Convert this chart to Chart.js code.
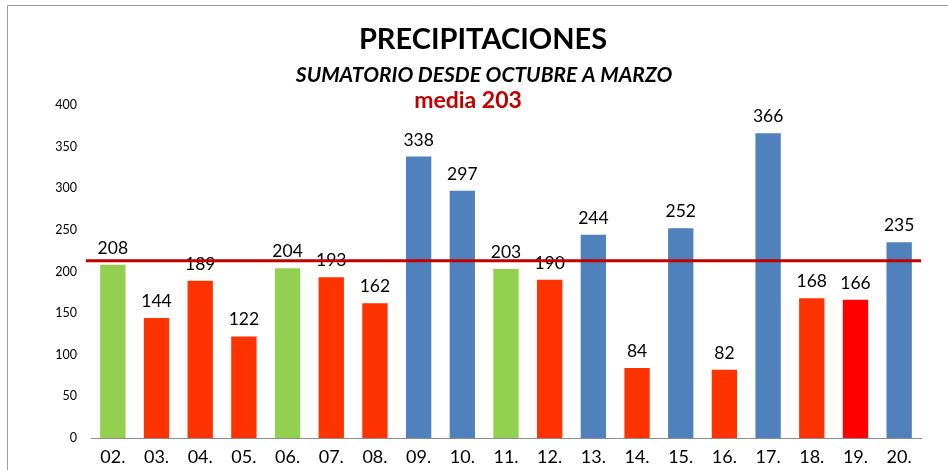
<!DOCTYPE html>
<html>
<head>
<meta charset="utf-8">
<script src="https://cdn.jsdelivr.net/npm/chart.js@4/dist/chart.umd.min.js"></script>
<style>
  html, body { margin: 0; padding: 0; background: #fff; }
  #wrap { width: 948px; height: 470px; position: relative; }
</style>
</head>
<body>
<div id="wrap"><canvas id="rainChart" width="948" height="470"></canvas></div>
<script>
var years = ["02.", "03.", "04.", "05.", "06.", "07.", "08.", "09.", "10.", "11.", "12.", "13.", "14.", "15.", "16.", "17.", "18.", "19.", "20."];
var rainfall = [208, 144, 189, 122, 204, 193, 162, 338, 297, 203, 190, 244, 84, 252, 82, 366, 168, 166, 235];
var meanLabel = 203;
var meanLine = 213;   // where the red line sits in the picture
var yTicks = [0, 50, 100, 150, 200, 250, 300, 350, 400];

var GREEN = "#92D050", ORANGE = "#FF3300", RED = "#FF0000", BLUE = "#4F81BD";
var barColors = [GREEN, ORANGE, ORANGE, ORANGE, GREEN, ORANGE, ORANGE, BLUE, BLUE, GREEN,
                 ORANGE, BLUE, ORANGE, BLUE, ORANGE, BLUE, ORANGE, RED, BLUE];

var font = "Lato, 'Open Sans', sans-serif";

// frame, titles, value labels and the mean line
var decorations = {
    id: "decorations",
    afterDatasetsDraw: function(chart) {
        var ctx = chart.ctx;
        var x = chart.scales.x, y = chart.scales.y;
        ctx.save();

        ctx.strokeStyle = "#9a9a9a";
        ctx.lineWidth = 1;
        ctx.beginPath();
        ctx.moveTo(7.5, 470);
        ctx.lineTo(7.5, 5.5);
        ctx.lineTo(948, 5.5);
        ctx.stroke();

        ctx.textAlign = "center";
        ctx.textBaseline = "middle";
        ctx.fillStyle = "#000";
        ctx.font = "bold 29px " + font;
        ctx.fillText("PRECIPITACIONES", 483, 40);
        ctx.font = "italic bold 21px " + font;
        ctx.fillText("SUMATORIO DESDE OCTUBRE A MARZO", 484, 75);
        ctx.fillStyle = "#C00000";
        ctx.font = "bold 23px " + font;
        ctx.fillText("media " + meanLabel, 468, 101);

        ctx.fillStyle = "#000";
        ctx.font = "17.5px " + font;
        ctx.textBaseline = "bottom";
        chart.getDatasetMeta(0).data.forEach(function(bar, i) {
            ctx.fillText(String(rainfall[i]), bar.x, bar.y - 8);
        });

        var ly = y.getPixelForValue(meanLine);
        ctx.strokeStyle = "#C00000";
        ctx.lineWidth = 3;
        ctx.beginPath();
        ctx.moveTo(86, ly);
        ctx.lineTo(x.right, ly);
        ctx.stroke();
        ctx.restore();
    }
};

new Chart(document.getElementById("rainChart").getContext("2d"), {
    type: "bar",
    data: {
        labels: years,
        datasets: [{
            data: rainfall,
            backgroundColor: barColors,
            barPercentage: 0.58,
            categoryPercentage: 1.0
        }]
    },
    options: {
        responsive: false,
        animation: false,
        layout: { padding: { top: 105, right: 27, left: 0, bottom: 0 } },
        plugins: {
            legend: { display: false },
            tooltip: { enabled: false }
        },
        scales: {
            x: {
                grid: { display: false, drawTicks: false },
                border: { display: true, color: "#8c8c8c", width: 1 },
                ticks: { color: "#000", font: { family: font, size: 18 }, padding: 8 },
                afterFit: function(s) { s.height = 32; }
            },
            y: {
                min: 0,
                max: 400,
                grid: { display: false, drawTicks: false },
                border: { display: false },
                afterBuildTicks: function(s) { s.ticks = yTicks.map(function(v) { return { value: v }; }); },
                ticks: { color: "#000", font: { family: font, size: 12.5 }, padding: 14 },
                afterFit: function(s) { s.width = 91; }
            }
        }
    },
    plugins: [decorations]
});
</script>
</body>
</html>
